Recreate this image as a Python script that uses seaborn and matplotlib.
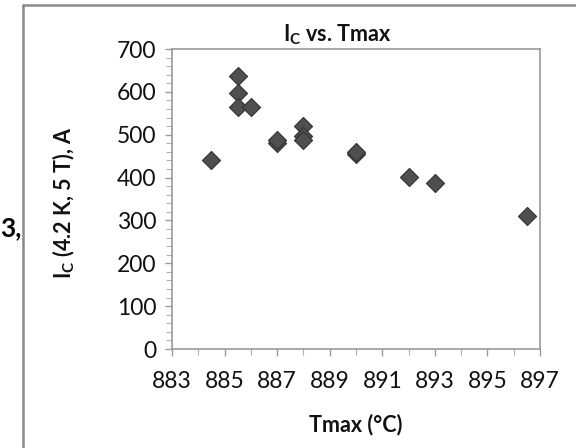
import matplotlib
matplotlib.use("Agg")
import matplotlib.pyplot as plt
import seaborn as sns
import pandas as pd
import numpy as np
from matplotlib.lines import Line2D
from matplotlib.ticker import MultipleLocator

# Data
tmax = [884.5, 885.5, 885.5, 885.5, 886.0, 887.0, 887.0, 888.0, 888.0, 888.0, 890.0, 890.0, 892.0, 893.0, 896.5]
ic = [440, 638, 597, 565, 565, 480, 487, 520, 497, 488, 455, 460, 401, 387, 311]

x_ticks = [883, 885, 887, 889, 891, 893, 895, 897]
y_ticks = [0, 100, 200, 300, 400, 500, 600, 700]

title = r"I$_\mathregular{C}$ vs. Tmax"
xlabel = "Tmax (°C)"
ylabel = r"I$_\mathregular{C}$ (4.2 K, 5 T), A"

sns.set_theme(style="white")
plt.rcParams['font.family'] = ['Lato', 'DejaVu Sans']
plt.rcParams['mathtext.fontset'] = 'custom'
plt.rcParams['mathtext.rm'] = 'Lato:bold'
plt.rcParams['mathtext.it'] = 'Lato:bold'
plt.rcParams['mathtext.bf'] = 'Lato:bold'

df = pd.DataFrame({"Tmax": tmax, "Ic": ic})

W, H = 576, 448
fig = plt.figure(figsize=(W / 100, H / 100), dpi=100)
fig.patch.set_facecolor("white")
ax = fig.add_axes([172 / W, 1 - 349 / H, (540 - 172) / W, (349 - 49) / H])

sns.scatterplot(data=df, x="Tmax", y="Ic", ax=ax, marker="D", s=85,
                color="#4f4f4f", edgecolor="#333333", linewidth=0.8, zorder=3)

ax.set_xlim(883, 897)
ax.set_ylim(0, 700)
ax.set_xticks(x_ticks)
ax.set_yticks(y_ticks)
ax.xaxis.set_minor_locator(MultipleLocator(1))
ax.yaxis.set_minor_locator(MultipleLocator(20))
ax.tick_params(axis="both", which="major", direction="out", length=5, width=1,
               color="#9a9a9a", labelsize=16.5, labelcolor="#111111", pad=6)
ax.tick_params(axis="both", which="minor", direction="out", length=4, width=0.8,
               color="#b0b0b0")
ax.tick_params(axis="x", which="both", bottom=True, top=False)
ax.tick_params(axis="y", which="both", left=True, right=False)
ax.tick_params(axis="x", which="major", pad=11)
for sp in ax.spines.values():
    sp.set_color("#9a9a9a")
    sp.set_linewidth(1.2)
ax.set_xlabel("")
ax.set_ylabel("")

fig.text(337 / W, 1 - 35 / H, title, ha="center", va="center",
         fontsize=15.5, fontweight="bold", color="#111111")
fig.text(356 / W, 1 - 425 / H, xlabel, ha="center", va="center",
         fontsize=15.5, fontweight="bold", color="#111111")
fig.text(64 / W, 1 - 203 / H, ylabel, ha="center", va="center", rotation=90,
         fontsize=15.5, fontweight="bold", color="#111111")

# text fragment at left edge
fig.text(0.5 / W, 1 - 228 / H, "3,", ha="left", va="center",
         fontsize=19, fontweight="bold", color="#000000")

# outer frame
fig.add_artist(Line2D([23 / W, 23 / W], [0, 1 - 5 / H], transform=fig.transFigure,
                      color="#8a8a8a", linewidth=1.8))
fig.add_artist(Line2D([23 / W, 1], [1 - 5 / H, 1 - 5 / H], transform=fig.transFigure,
                      color="#8a8a8a", linewidth=1.8))

fig.savefig("out.png", dpi=100)
